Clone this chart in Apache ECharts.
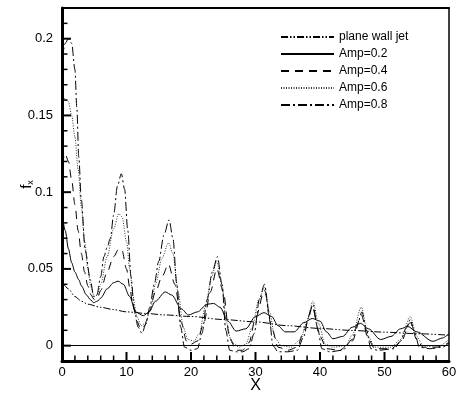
<!DOCTYPE html>
<html><head><meta charset="utf-8">
<script src="https://cdn.jsdelivr.net/npm/echarts@6/dist/echarts.min.js"></script>
<style>html,body{margin:0;padding:0;background:#fff}#c{width:457px;height:398px}</style>
</head><body><div id="c"></div>
<script>
// ---- data ----
const seriesNames = ['plane wall jet','Amp=0.2','Amp=0.4','Amp=0.6','Amp=0.8'];
const yTickLabels = [0,0.05,0.1,0.15,0.2];
const xMajorTicks = [10,20,30,40,50];
const xMinorTicks = [2,4,6,8,12,14,16,18,22,24,26,28,32,34,36,38,42,44,46,48,52,54,56,58];
const yMinorTicks = [0.01,0.02,0.03,0.04,0.06,0.07,0.08,0.09,0.11,0.12,0.13,0.14,0.16,0.17,0.18,0.19,0.21];

const wallX = [0.3,1,2,3,4,6,8,10,13,16,20,25,30,35,40,45,50,55,60];
const wallY = [0.040,0.037,0.032,0.029,0.027,0.025,0.0235,0.022,0.021,0.020,0.019,0.017,0.0155,0.0130,0.0112,0.0099,0.0088,0.0078,0.0068];

const a2X = [0,0.5,1,1.5,2,2.6,3,3.8,4.4,4.9,5.5,6,7,8,8.7,9.5,10.5,11.4,12.6,13.5,14.5,16,17,18.5,19.6,21,22.5,23.5,24.5,25.7,27,28.5,30,31.3,32.5,33.5,34.6,36,37.5,38.8,40,41,42,43.5,45,46.3,47.5,49.4,51,52.5,53.6,55,57.5,59,60];
const a2Y = [0.087,0.075,0.063,0.054,0.048,0.043,0.039,0.033,0.030,0.028,0.029,0.031,0.037,0.041,0.042,0.040,0.032,0.022,0.0195,0.022,0.029,0.035,0.033,0.024,0.020,0.022,0.027,0.0275,0.025,0.016,0.0095,0.011,0.019,0.0215,0.019,0.013,0.009,0.009,0.015,0.0177,0.016,0.009,0.0045,0.006,0.012,0.0145,0.011,0.004,0.006,0.011,0.0125,0.009,0.0028,0.005,0.008];

const a4X = [0,0.5,1,1.5,2,2.5,3,3.5,4,4.5,5,5.5,6,7,8,8.8,9.3,10,10.5,11,11.6,12.2,12.8,13.5,14.5,15.5,16.5,17.5,18.5,19.3,20,21,22,23,24,25,26,27,28,29,30,31.4,32.5,33.5,35,36.5,37.5,38.8,40,41,43,45,46.4,47.5,48.5,51,52.5,54,55,56,58,60];
const a4Y = [0.118,0.125,0.120,0.108,0.092,0.075,0.060,0.048,0.039,0.033,0.030,0.031,0.036,0.048,0.058,0.063,0.062,0.050,0.038,0.026,0.016,0.011,0.013,0.022,0.035,0.045,0.053,0.040,0.015,0.003,0.001,0.003,0.015,0.035,0.050,0.035,0.005,-0.003,-0.003,0.002,0.018,0.036,0.012,-0.001,-0.003,-0.001,0.010,0.025,0.006,-0.002,-0.003,0.003,0.020,0.004,-0.002,-0.002,0.002,0.015,0.004,-0.001,-0.001,0.002];

const a6X = [0,0.5,1,1.5,2,2.5,3,3.5,4,4.5,5,5.5,6,7,8,8.8,9.3,10,10.5,11,11.6,12.3,13,13.7,14.5,15.5,16.5,17.2,18,18.8,19.5,20.5,21.3,22.2,23.2,24,24.8,25.5,26.3,27.5,28.5,29.5,30.5,31.4,32.2,33,34,35.5,37,38,38.9,39.8,40.8,42,44,45,46.4,47.5,48.5,51,52.5,54,55,56,58,60];
const a6Y = [0.160,0.161,0.159,0.150,0.136,0.115,0.090,0.068,0.050,0.038,0.032,0.033,0.040,0.058,0.076,0.086,0.084,0.068,0.050,0.032,0.019,0.013,0.015,0.024,0.040,0.057,0.067,0.060,0.035,0.012,0.004,0.003,0.008,0.025,0.045,0.055,0.040,0.015,0.002,-0.001,0.001,0.012,0.030,0.038,0.022,0.005,0.000,-0.001,0.004,0.016,0.029,0.014,0.001,-0.001,0.000,0.007,0.025,0.006,-0.001,-0.001,0.004,0.019,0.006,0.000,-0.001,0.004];

const a8X = [0,0.5,1,1.5,2,2.3,2.6,3,3.6,4.4,4.9,5.4,6,6.5,7,7.5,8,8.6,9.2,9.7,10.2,10.7,11.2,11.8,12.4,13,13.6,14.3,15,15.8,16.6,17.2,17.8,18.4,19,20,21,21.7,22.5,23.3,24.1,24.8,25.4,26,27,28,29,29.8,30.6,31.4,32.1,32.7,33.5,35,36.5,37.5,38.2,38.9,39.6,40.3,41.5,43.5,45,45.8,46.5,47.2,47.9,49,51.5,52.5,53.3,54,54.7,55.4,57,59,60];
const a8Y = [0.185,0.197,0.200,0.197,0.180,0.155,0.123,0.095,0.062,0.043,0.032,0.033,0.045,0.058,0.064,0.070,0.085,0.104,0.112,0.102,0.075,0.045,0.024,0.012,0.008,0.014,0.025,0.040,0.055,0.072,0.082,0.070,0.040,0.012,-0.001,-0.003,-0.002,0.008,0.030,0.048,0.058,0.040,0.010,-0.003,-0.004,-0.004,-0.002,0.008,0.030,0.040,0.020,0.000,-0.004,-0.004,-0.003,0.006,0.018,0.027,0.012,-0.002,-0.004,-0.003,0.004,0.014,0.022,0.010,-0.002,-0.003,-0.002,0.003,0.011,0.017,0.008,-0.001,-0.002,-0.001,0.002];

// ---- build ----
const X_MIN = 0, X_MAX = 60, Y_MIN = -0.01, Y_MAX = 0.22;
const zip = (xs, ys) => xs.map((x, i) => [x, ys[i]]);
const FONT = 'Liberation Sans, Arial, sans-serif';
const dashes = [[7,2,1.5,2,1.5,2], null, [8,6], [1,1.5], [9,3,2,3]];
const data = [zip(wallX, wallY), zip(a2X, a2Y), zip(a4X, a4Y), zip(a6X, a6Y), zip(a8X, a8Y)];

const series = seriesNames.map((n, i) => ({
  name: n, type: 'line', xAxisIndex: 0, yAxisIndex: 0,
  data: data[i], showSymbol: false, symbol: 'none',
  smooth: 0.3, smoothMonotone: 'x',
  lineStyle: { color: i === 3 ? '#333' : '#000', width: 1, type: dashes[i] || 'solid' },
  itemStyle: { color: '#000' },
  clip: true, animation: false, z: 3
}));
series[1].markLine = {
  silent: true, symbol: ['none', 'none'], label: { show: false },
  lineStyle: { color: '#000', width: 1, type: 'solid' },
  data: [{ yAxis: 0 }], animation: false
};

const ln = w => ({ color: '#000', width: w });
const chart = echarts.init(document.getElementById('c'), null, { renderer: 'canvas' });
chart.setOption({
  animation: false,
  backgroundColor: '#fff',
  grid: { left: 62, right: 8, top: 8, bottom: 37, containLabel: false, outerBoundsMode: 'none', show: false },
  legend: {
    show: true, orient: 'vertical', left: 280, top: 30, padding: 0,
    itemWidth: 53, itemHeight: 10, itemGap: 3,
    itemStyle: { opacity: 0 },
    textStyle: { fontFamily: FONT, fontSize: 12, color: '#000', lineHeight: 14 },
    data: seriesNames
  },
  xAxis: [{
    type: 'value', min: X_MIN, max: X_MAX, interval: 10, position: 'bottom', z: 6,
    name: 'X', nameLocation: 'middle', nameGap: 17, nameMoveOverlap: false,
    nameTextStyle: { fontFamily: FONT, fontSize: 16, color: '#000' },
    axisLine: { show: true, onZero: false, lineStyle: ln(3) },
    axisTick: { show: false },
    axisLabel: { fontFamily: FONT, fontSize: 13, color: '#000', margin: 5 },
    splitLine: { show: false }
  }, {
    type: 'value', min: X_MIN, max: X_MAX, interval: 10, position: 'top', z: 6,
    axisLine: { show: true, onZero: false, lineStyle: ln(2) },
    axisTick: { show: false }, axisLabel: { show: false }, splitLine: { show: false }
  }],
  yAxis: [{
    type: 'value', min: Y_MIN, max: Y_MAX, position: 'left', z: 6,
    name: '{f|f}{s|x}', nameLocation: 'middle', nameGap: 27, nameRotate: 90, nameMoveOverlap: false,
    nameTextStyle: { fontFamily: FONT, color: '#000', rich: { f: { fontFamily: FONT, fontSize: 15, color: '#000' }, s: { fontFamily: FONT, fontSize: 9, color: '#000', verticalAlign: 'bottom', padding: [8, 0, 0, 0] } } },
    axisLine: { show: true, onZero: false, lineStyle: ln(3) },
    axisTick: { show: false },
    axisLabel: { fontFamily: FONT, fontSize: 13, color: '#000', margin: 9, customValues: yTickLabels },
    splitLine: { show: false }
  }, {
    type: 'value', min: Y_MIN, max: Y_MAX, position: 'right', z: 6,
    axisLine: { show: true, onZero: false, lineStyle: ln(1.5) },
    axisTick: { show: false }, axisLabel: { show: false }, splitLine: { show: false }
  }],
  series: series
});

// inward tick marks, positioned through the chart's own axis scales
const toPx = (x, y) => chart.convertToPixel({ xAxisIndex: 0, yAxisIndex: 0 }, [x, y]);
const ticks = [];
const addTick = (p, dx, dy, w) => ticks.push({
  type: 'line', z: 100, silent: true,
  shape: { x1: p[0], y1: p[1], x2: p[0] + dx, y2: p[1] + dy },
  style: { stroke: '#000', lineWidth: w }
});
xMajorTicks.forEach(v => addTick(toPx(v, Y_MIN), 0, -9, 2));
xMinorTicks.forEach(v => addTick(toPx(v, Y_MIN), 0, -5.5, 1.5));
yTickLabels.forEach(v => addTick(toPx(X_MIN, v), 9, 0, 2));
yMinorTicks.forEach(v => addTick(toPx(X_MIN, v), 5.5, 0, 1.5));
chart.setOption({ graphic: { elements: ticks } });
</script></body></html>
